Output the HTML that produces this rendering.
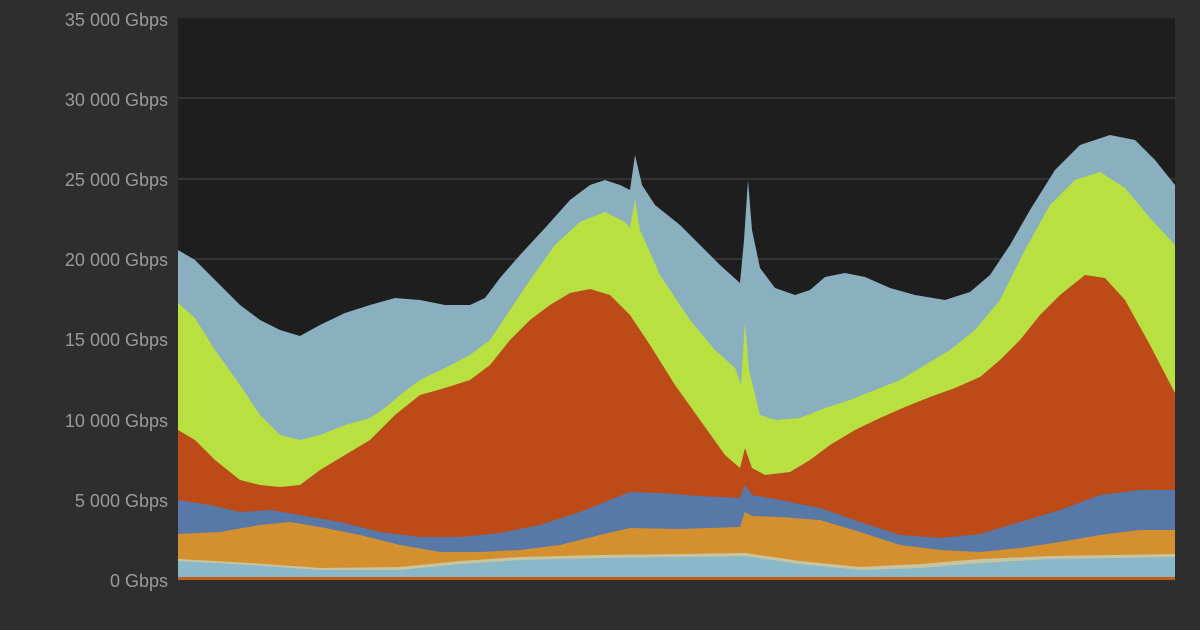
<!DOCTYPE html>
<html><head><meta charset="utf-8"><style>
html,body{margin:0;padding:0;background:#2e2e2e;}
svg{display:block}
text{font-family:"Liberation Sans",sans-serif;font-size:18px;fill:#9a9a9a}
</style></head><body>
<svg width="1200" height="630" viewBox="0 0 1200 630">
<rect width="1200" height="630" fill="#2e2e2e"/>
<rect x="178" y="18" width="997" height="562" fill="#1e1e1e"/>
<g stroke="#3a3a3a" stroke-width="1.5">
<line x1="178" y1="98" x2="1175" y2="98"/><line x1="178" y1="179" x2="1175" y2="179"/>
<line x1="178" y1="259" x2="1175" y2="259"/><line x1="178" y1="339" x2="1175" y2="339"/>
<line x1="178" y1="420" x2="1175" y2="420"/><line x1="178" y1="500" x2="1175" y2="500"/>
</g>
<polygon fill="#8ab0c0" points="178,580 178,250 195,260 215,280 240,305 260,320 280,330 300,336 320,325 345,313 370,305 395,298 420,300 445,305 470,305 485,298 500,278 520,255 545,228 570,200 590,185 605,180 620,185 630,190 635,155 642,185 655,205 680,225 700,245 720,265 740,283 744,240 748,180 752,230 760,268 775,288 795,295 810,290 825,277 845,273 865,277 890,288 915,295 945,300 970,292 990,275 1010,245 1030,210 1055,170 1080,145 1110,135 1135,140 1155,160 1175,185 1175,580"/>
<polygon fill="#b8e040" points="178,580 178,303 195,318 215,350 240,385 260,415 280,435 300,440 320,435 345,425 370,418 385,408 400,395 420,380 445,368 470,355 490,340 510,310 530,280 555,245 580,222 605,212 625,222 630,228 635,200 640,230 660,275 690,320 715,350 735,368 741,385 745,322 749,370 760,415 775,420 800,418 825,408 850,400 875,390 900,380 925,365 950,350 975,330 1000,300 1025,250 1050,205 1075,180 1100,172 1125,188 1150,218 1175,245 1175,580"/>
<polygon fill="#bc4b18" points="178,580 178,430 195,440 215,460 240,480 260,485 280,487 300,485 320,470 345,455 370,440 395,415 420,395 445,388 470,380 490,365 510,340 530,320 550,305 570,293 590,289 610,295 630,315 650,345 675,385 700,420 725,455 740,468 745,448 752,468 765,475 790,472 810,460 830,445 855,430 880,418 905,407 930,397 955,388 980,377 1000,360 1020,340 1040,315 1060,295 1085,275 1105,278 1125,300 1150,345 1175,393 1175,580"/>
<polygon fill="#5878a8" points="178,580 178,500 210,505 240,512 270,510 300,515 340,522 380,532 420,537 460,537 500,533 540,525 580,512 610,500 630,492 660,493 700,496 740,498 745,485 752,495 780,500 820,508 860,522 900,535 940,538 980,534 1020,522 1060,510 1100,495 1140,490 1175,490 1175,580"/>
<polygon fill="#d4902e" points="178,580 178,534 220,532 260,525 290,522 320,527 360,535 400,545 440,552 480,552 520,550 560,545 600,535 630,528 680,529 740,527 745,512 752,516 780,517 820,520 860,532 900,545 940,550 980,552 1020,548 1060,542 1100,535 1140,530 1175,530 1175,580"/>
<polygon fill="#c8c4a0" points="178,580 178,559 250,563 320,568 400,567 460,561 520,557 600,555 680,554 745,553 800,561 860,567 920,564 980,559 1050,556 1175,554 1175,580"/>
<polygon fill="#8ab8c8" points="178,580 178,561 250,565 320,570 400,570 460,564 520,560 600,558 680,557 745,556 800,564 860,570 920,568 980,563 1050,559 1175,557 1175,580"/>
<rect x="178" y="577" width="997" height="3" fill="#c06020"/>
<g text-anchor="end">
<text x="168" y="26">35 000 Gbps</text>
<text x="168" y="106">30 000 Gbps</text>
<text x="168" y="186">25 000 Gbps</text>
<text x="168" y="266">20 000 Gbps</text>
<text x="168" y="346">15 000 Gbps</text>
<text x="168" y="427">10 000 Gbps</text>
<text x="168" y="507">5 000 Gbps</text>
<text x="168" y="587">0 Gbps</text>
</g>
</svg>
</body></html>
